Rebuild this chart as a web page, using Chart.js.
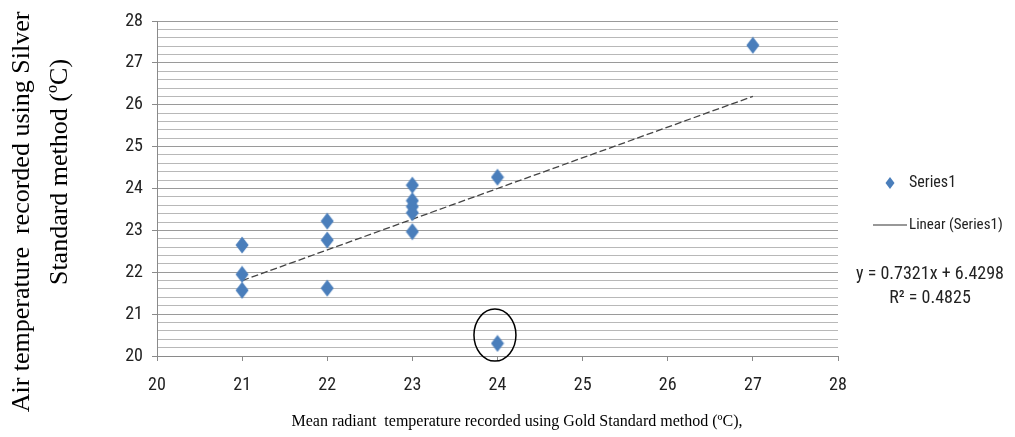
<!DOCTYPE html>
<html>
<head>
<meta charset="utf-8">
<script src="https://cdn.jsdelivr.net/npm/chart.js@4/dist/chart.umd.min.js"></script>
<style>
  body { margin: 0; background: #fff; }
  canvas { display: block; }
</style>
</head>
<body>
<canvas id="myChart" width="1015" height="437"></canvas>
<script>
// data
const xValues = [21, 21, 21, 22, 22, 22, 23, 23, 23, 23, 23, 24, 24, 27];
const yValues = [22.65, 21.95, 21.57, 23.22, 22.77, 21.62, 24.08, 23.71, 23.57, 23.42, 22.97, 24.27, 20.3, 27.42];
const trendX = [21, 27];
const trendY = [21.8, 26.2];
const xTicks = [20, 21, 22, 23, 24, 25, 26, 27, 28];
const yTicks = [20, 21, 22, 23, 24, 25, 26, 27, 28];
const outlierMark = [23.97, 20.5];
const equationText = 'y = 0.7321x + 6.4298';
const r2Text = 'R\u00B2 = 0.4825';

const narrow = "'Roboto Condensed', 'Liberation Sans Narrow', Roboto, sans-serif";
const serif = "'Liberation Serif', 'Times New Roman', serif";
const blue = '#4a7ebb';

// diamond marker, a bit taller than wide like the excel one
const marker = document.createElement('canvas');
marker.width = 14;
marker.height = 18;
let mctx = marker.getContext('2d');
mctx.fillStyle = blue;
mctx.beginPath();
mctx.moveTo(7, 0.5);
mctx.lineTo(13.5, 9);
mctx.lineTo(7, 17.5);
mctx.lineTo(0.5, 9);
mctx.closePath();
mctx.fill();

const isWhole = (v) => Math.abs(v - Math.round(v)) < 1e-6;

// titles, legend, equation and the circle round the outlier
const extras = {
	id: 'extras',
	afterDraw(chart) {
		const ctx = chart.ctx;
		const xs = chart.scales.x;
		const ys = chart.scales.y;
		ctx.save();

		// circle
		ctx.strokeStyle = '#000';
		ctx.lineWidth = 1.5;
		ctx.beginPath();
		ctx.ellipse(xs.getPixelForValue(outlierMark[0]), ys.getPixelForValue(outlierMark[1]), 21, 26, 0, 0, Math.PI * 2);
		ctx.stroke();

		// x title
		ctx.fillStyle = '#000';
		ctx.font = '16px ' + serif;
		ctx.textAlign = 'center';
		ctx.textBaseline = 'middle';
		ctx.fillText('Mean radiant  temperature recorded using Gold Standard method (\u00BAC),', 517, 422);

		// y title, two lines
		ctx.save();
		ctx.translate(22, 212);
		ctx.rotate(-Math.PI / 2);
		ctx.font = '26px ' + serif;
		ctx.fillText('Air temperature  recorded using Silver', 0, 0);
		ctx.restore();
		ctx.save();
		ctx.translate(60, 172);
		ctx.rotate(-Math.PI / 2);
		ctx.font = '26px ' + serif;
		ctx.fillText('Standard method (\u00BAC)', 0, 0);
		ctx.restore();

		// legend
		const ds = chart.data.datasets;
		ctx.fillStyle = blue;
		ctx.beginPath();
		ctx.moveTo(890, 177);
		ctx.lineTo(894.5, 183);
		ctx.lineTo(890, 189);
		ctx.lineTo(885.5, 183);
		ctx.closePath();
		ctx.fill();
		ctx.fillStyle = '#222';
		ctx.font = '16px ' + narrow;
		ctx.textAlign = 'left';
		ctx.fillText(ds[0].label, 909, 183);

		ctx.font = '15px ' + narrow;
		ctx.strokeStyle = '#333';
		ctx.lineWidth = 1.2;
		ctx.beginPath();
		ctx.moveTo(873, 225);
		ctx.lineTo(907, 225);
		ctx.stroke();
		ctx.fillText(ds[1].label, 909, 225);

		ctx.font = '18px ' + narrow;
		ctx.textAlign = 'center';
		ctx.fillText(equationText, 930, 274);
		ctx.fillText(r2Text, 930, 298);

		ctx.restore();
	},
};

const chart = new Chart(document.getElementById('myChart'), {
	type: 'scatter',
	data: {
		datasets: [
			{
				label: 'Series1',
				data: xValues.map((x, i) => ({ x: x, y: yValues[i] })),
				pointStyle: marker,
				pointRadius: 7,
				pointHoverRadius: 7,
			},
			{
				label: 'Linear (Series1)',
				type: 'line',
				data: trendX.map((x, i) => ({ x: x, y: trendY[i] })),
				borderColor: '#444',
				borderWidth: 1.3,
				borderDash: [7, 3],
				pointRadius: 0,
				fill: false,
			},
		],
	},
	options: {
		responsive: false,
		animation: false,
		layout: {
			padding: { left: 82, right: 177, top: 21, bottom: 0 },
		},
		plugins: {
			legend: { display: false },
			tooltip: { enabled: false },
		},
		scales: {
			x: {
				type: 'linear',
				min: xTicks[0],
				max: xTicks[xTicks.length - 1],
				afterBuildTicks: (scale) => {
					scale.ticks = xTicks.map((v) => ({ value: v }));
				},
				afterFit: (scale) => {
					scale.height = 81;
				},
				grid: {
					drawOnChartArea: false,
					drawTicks: true,
					tickLength: 5,
					tickColor: '#8a8a8a',
				},
				border: { display: true, color: '#8a8a8a' },
				ticks: {
					padding: 14,
					color: '#222',
					font: { family: narrow, size: 18 },
				},
			},
			y: {
				type: 'linear',
				min: yTicks[0],
				max: yTicks[yTicks.length - 1],
				afterBuildTicks: (scale) => {
					// minor lines every 0.2, labels only on the whole numbers
					const list = [];
					for (let i = 0; i < yTicks.length; i++) {
						list.push({ value: yTicks[i] });
						if (i < yTicks.length - 1) {
							for (let k = 1; k < 5; k++) {
								list.push({ value: yTicks[i] + k * 0.2 });
							}
						}
					}
					scale.ticks = list;
				},
				afterFit: (scale) => {
					scale.width = 75;
				},
				grid: {
					color: (c) => (c.tick && isWhole(c.tick.value) ? '#9a9a9a' : '#b8b8b8'),
					tickColor: (c) => (c.tick && isWhole(c.tick.value) ? '#8a8a8a' : 'rgba(0,0,0,0)'),
					tickLength: 5,
					lineWidth: 1,
				},
				border: { display: true, color: '#8a8a8a' },
				ticks: {
					padding: 9,
					color: '#222',
					autoSkip: false,
					font: { family: narrow, size: 18 },
					callback: (v) => (isWhole(v) ? Math.round(v) : ''),
				},
			},
		},
	},
	plugins: [extras],
});
</script>
</body>
</html>
